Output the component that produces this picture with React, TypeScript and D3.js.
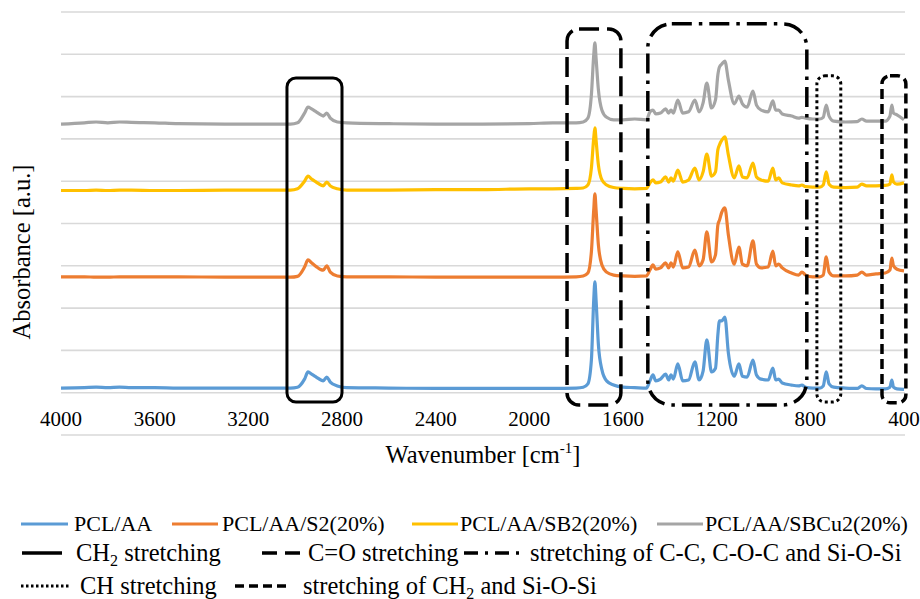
import React from "react";
import * as d3 from "d3";

const WAVENUMBERS = [
  4000, 3900, 3850, 3800, 3750, 3700, 3600, 3500, 3300, 3100,
  3020, 2990, 2960, 2945, 2930, 2910, 2890, 2880, 2865, 2850,
  2820, 2780, 2600, 2400, 2200, 2000, 1900, 1800, 1770, 1750,
  1735, 1725, 1720, 1715, 1705, 1690, 1670, 1640, 1600, 1550,
  1500, 1485, 1472, 1460, 1440, 1418, 1405, 1395, 1385, 1366,
  1345, 1320, 1293, 1275, 1258, 1242, 1222, 1205, 1195, 1188,
  1178, 1165, 1150, 1125, 1105, 1090, 1070, 1045, 1030, 1010,
  980, 960, 948, 935, 920, 880, 850, 836, 820, 790,
  760, 745, 732, 720, 700, 650, 600, 580, 560, 520,
  480, 460, 452, 445, 430, 400,
];

const PCL_AA = [
  .111, .112, .113, .112, .113, .112, .112, .111, .111, .111,
  .111, .113, .132, .149, .144, .137, .130, .128, .137, .125,
  .116, .112, .111, .110, .110, .110, .110, .111, .113, .121,
  .177, .319, .362, .319, .213, .154, .128, .118, .113, .112,
  .111, .128, .142, .128, .132, .144, .130, .142, .132, .168,
  .128, .130, .173, .130, .151, .225, .149, .158, .236, .270,
  .270, .279, .194, .139, .168, .139, .137, .177, .142, .132,
  .130, .158, .130, .132, .123, .118, .116, .118, .113, .111,
  .111, .116, .149, .121, .113, .111, .110, .116, .110, .109,
  .109, .113, .130, .113, .109, .108,
];

const PCL_AA_S2 = [
  .374, .374, .373, .373, .374, .374, .374, .374, .373, .373,
  .373, .375, .397, .414, .407, .398, .391, .390, .400, .385,
  .376, .374, .374, .373, .373, .373, .373, .374, .376, .383,
  .433, .532, .570, .532, .449, .402, .385, .378, .376, .375,
  .376, .390, .402, .392, .395, .407, .395, .407, .397, .433,
  .395, .397, .437, .400, .414, .480, .409, .426, .496, .508,
  .527, .537, .473, .404, .444, .404, .400, .459, .404, .395,
  .397, .435, .400, .404, .395, .383, .378, .385, .378, .374,
  .374, .378, .421, .385, .376, .376, .378, .385, .378, .381,
  .383, .390, .418, .400, .392, .388,
];

const PCL_AA_SB2 = [
  .578, .578, .579, .578, .579, .579, .578, .578, .579, .579,
  .579, .582, .600, .612, .605, .598, .591, .589, .598, .589,
  .582, .579, .579, .580, .580, .582, .582, .583, .584, .591,
  .631, .702, .726, .697, .638, .603, .591, .585, .583, .582,
  .583, .596, .603, .596, .598, .610, .598, .608, .600, .626,
  .598, .603, .631, .603, .622, .664, .612, .622, .674, .686,
  .697, .705, .662, .608, .636, .610, .608, .643, .610, .603,
  .600, .631, .603, .608, .596, .591, .589, .591, .587, .586,
  .586, .591, .622, .593, .586, .585, .586, .593, .589, .589,
  .590, .593, .615, .598, .593, .596,
];

const PCL_AA_SBCU2 = [
  .735, .738, .740, .738, .740, .739, .738, .736, .735, .735,
  .735, .738, .761, .775, .771, .764, .757, .754, .761, .749,
  .740, .738, .736, .735, .735, .736, .738, .738, .740, .749,
  .804, .898, .927, .891, .816, .768, .751, .745, .745, .747,
  .745, .764, .768, .759, .761, .771, .761, .768, .761, .792,
  .761, .764, .792, .764, .785, .832, .773, .792, .851, .870,
  .877, .884, .839, .783, .801, .783, .775, .813, .780, .768,
  .764, .790, .768, .768, .759, .754, .749, .751, .749, .747,
  .747, .751, .780, .754, .742, .740, .741, .747, .742, .742,
  .742, .754, .780, .761, .757, .745,
];

const SERIES_NAMES = ["PCL/AA", "PCL/AA/S2(20%)", "PCL/AA/SB2(20%)", "PCL/AA/SBCu2(20%)"];
const SERIES_VALUES = [PCL_AA, PCL_AA_S2, PCL_AA_SB2, PCL_AA_SBCU2];
const X_TICKS = [4000, 3600, 3200, 2800, 2400, 2000, 1600, 1200, 800, 400];
const Y_GRID = [0, 0.1, 0.2, 0.3, 0.4, 0.5, 0.6, 0.7, 0.8, 0.9, 1.0];

// Annotation boxes: wavenumber range and absorbance range
const BOX_WN_FROM = [3035, 1839, 1494, 772, 494];
const BOX_WN_TO = [2800, 1609, 815, 670, 392];
const BOX_ABS_TOP = [0.844, 0.960, 0.972, 0.849, 0.849];
const BOX_ABS_BOTTOM = [0.078, 0.071, 0.071, 0.078, 0.076];

const COLORS = ["#5B9BD5", "#ED7D31", "#FFC000", "#A5A5A5"];
const BOX_STYLES = [
  { dash: "none", w: 3, r: 9 },
  { dash: "20 8", w: 3.5, r: 12 },
  { dash: "20 7 3.5 7", w: 3.5, r: 24 },
  { dash: "3 3", w: 3, r: 8 },
  { dash: "10 5", w: 3.5, r: 8 },
];

const SERIF = "Times New Roman";

export default function App() {
  const W = 920, H = 599;
  const x = d3.scaleLinear().domain([4000, 400]).range([61, 904]);
  const y = d3.scaleLinear().domain([0, 1]).range([435, 12]);

  const line = d3
    .line<number>()
    .x((_, i) => x(WAVENUMBERS[i]))
    .y((v) => y(v))
    .curve(d3.curveMonotoneX);

  const sw = (x0: number, x1: number, yy: number, stroke: string, dash: string, w: number) => (
    <line x1={x0} x2={x1} y1={yy} y2={yy} stroke={stroke} strokeWidth={w} strokeDasharray={dash} />
  );

  const fs1 = 22;
  const fs2 = 24.5;
  const r1 = 524, r2 = 553, r3 = 586;
  const ts = { fontFamily: SERIF };

  return (
    <div style={{ position: "absolute", left: 0, top: 0, background: "#fff", fontFamily: SERIF }}>
      <svg width={W} height={H} style={{ fontFamily: SERIF }}>
        {Y_GRID.map((g) => (
          <line key={g} x1={61} x2={905} y1={y(g)} y2={y(g)} stroke="#D9D9D9" strokeWidth={1.6} />
        ))}
        {SERIES_VALUES.map((vals, si) => (
          <path key={si} d={line(vals) || ""} fill="none" stroke={COLORS[si]} strokeWidth={3.2} strokeLinejoin="round" />
        ))}
        {BOX_WN_FROM.map((wf, i) => {
          const st = BOX_STYLES[i];
          const x0 = x(wf), x1 = x(BOX_WN_TO[i]);
          const y0 = y(BOX_ABS_TOP[i]), y1 = y(BOX_ABS_BOTTOM[i]);
          return (
            <rect key={i} x={x0} y={y0} width={x1 - x0} height={y1 - y0} rx={st.r} ry={st.r}
              fill="none" stroke="#000" strokeWidth={st.w} strokeDasharray={st.dash} />
          );
        })}
        {X_TICKS.map((t) => (
          <text key={t} x={x(t)} y={426} textAnchor="middle" fontSize={21} style={ts}>{t}</text>
        ))}
        <text x={483} y={463} textAnchor="middle" fontSize={24.5} style={ts}>
          Wavenumber [cm<tspan fontSize={15} dy={-10}>-1</tspan><tspan dy={10}>]</tspan>
        </text>
        <text transform="translate(30,252) rotate(-90)" textAnchor="middle" fontSize={24.5} style={ts}>
          Absorbance [a.u.]
        </text>

        {sw(21, 68, r1, COLORS[0], "none", 3)}
        <text x={74} y={r1 + 7} fontSize={fs1} style={ts}>{SERIES_NAMES[0]}</text>
        {sw(172, 218, r1, COLORS[1], "none", 3)}
        <text x={222} y={r1 + 7} fontSize={fs1} style={ts}>{SERIES_NAMES[1]}</text>
        {sw(412, 458, r1, COLORS[2], "none", 3)}
        <text x={460} y={r1 + 7} fontSize={fs1} style={ts}>{SERIES_NAMES[2]}</text>
        {sw(657, 703, r1, COLORS[3], "none", 3)}
        <text x={705} y={r1 + 7} fontSize={fs1} style={ts}>{SERIES_NAMES[3]}</text>

        {sw(22, 62, r2, "#000", "none", 3.5)}
        <text x={76} y={r2 + 8} fontSize={fs2} style={ts}>CH<tspan fontSize={16} dy={5}>2</tspan><tspan dy={-5}> stretching</tspan></text>
        {sw(262, 300, r2, "#000", "15 8", 3.5)}
        <text x={308} y={r2 + 8} fontSize={fs2} style={ts}>C=O stretching</text>
        {sw(464, 520, r2, "#000", "14 7 3 7", 3.5)}
        <text x={530} y={r2 + 8} fontSize={fs2} style={ts}>stretching of C-C, C-O-C and Si-O-Si</text>

        {sw(21, 70, r3, "#000", "2.5 2.5", 3)}
        <text x={80} y={r3 + 8} fontSize={fs2} style={ts}>CH stretching</text>
        {sw(235, 290, r3, "#000", "9 5", 3.5)}
        <text x={303} y={r3 + 8} fontSize={fs2} style={ts}>stretching of CH<tspan fontSize={16} dy={5}>2</tspan><tspan dy={-5}> and Si-O-Si</tspan></text>
      </svg>
    </div>
  );
}
